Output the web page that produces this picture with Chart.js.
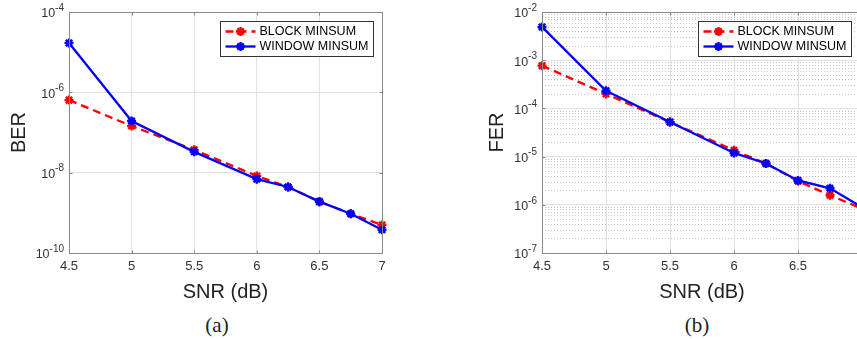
<!DOCTYPE html>
<html>
<head>
<meta charset="utf-8">
<script src="https://cdn.jsdelivr.net/npm/chart.js@4.4.1/dist/chart.umd.min.js"></script>
<style>
    html, body { margin: 0; padding: 0; background: #fff; width: 857px; height: 339px; overflow: hidden; }
    .box { position: absolute; top: 0; width: 400px; height: 310px; }
    #boxA { left: 0; }
    #boxB { left: 480px; }
    .cap { position: absolute; top: 313px; line-height: 24px; font-family: "Liberation Serif", "DejaVu Serif", serif; font-size: 21px; color: #222; transform: translateX(-50%); }
</style>
</head>
<body>
<div id="boxA" class="box"><canvas id="berChart"></canvas></div>
<div id="boxB" class="box"><canvas id="ferChart"></canvas></div>
<div class="cap" style="left:217px">(a)</div>
<div class="cap" style="left:697px">(b)</div>
<script>
// Дані
const snr = [4.5, 5, 5.5, 6, 6.25, 6.5, 6.75, 7];
const berBlock = [6.4e-7, 1.45e-7, 3.7e-8, 8.3e-9, 4.4e-9, 1.9e-9, 9.5e-10, 5.0e-10];
const berWindow = [1.7e-5, 1.93e-7, 3.3e-8, 6.9e-9, 4.4e-9, 1.9e-9, 9.5e-10, 3.8e-10];
const ferBlock = [7.7e-4, 2.0e-4, 5.2e-5, 1.35e-5, 7.2e-6, 3.1e-6, 1.58e-6, 8.3e-7];
const ferWindow = [4.9e-3, 2.33e-4, 5.2e-5, 1.19e-5, 7.2e-6, 3.2e-6, 2.2e-6, 8.9e-7];
const seriesNames = ['BLOCK MINSUM', 'WINDOW MINSUM'];
const berExps = [-10, -8, -6, -4];
const ferExps = [-7, -6, -5, -4, -3, -2];

const FONT = '"Liberation Sans", Arial, sans-serif';
const TEXT = '#333';
const FRAME = '#8a8a8a';

function makeDatasets(block, windowed) {
    return [
        {
            label: seriesNames[0],
            data: snr.map((x, i) => ({ x, y: block[i] })),
            borderColor: '#ff0000',
            backgroundColor: '#ff0000',
            borderWidth: 2.3,
            borderDash: [8, 5],
            pointStyle: 'star',
            pointRadius: 4.5,
            pointBorderWidth: 2.4,
            clip: false,
            order: 1
        },
        {
            label: seriesNames[1],
            data: snr.map((x, i) => ({ x, y: windowed[i] })),
            borderColor: '#0000ff',
            backgroundColor: '#0000ff',
            borderWidth: 2.3,
            pointStyle: 'star',
            pointRadius: 4.5,
            pointBorderWidth: 2.4,
            clip: false,
            order: 0
        }
    ];
}

// Рамка, мінорна сітка, підписи осі Y і легенда в стилі MATLAB
const matlabAxes = {
    id: 'matlabAxes',
    beforeDatasetsDraw(chart, args, opts) {
        if (!opts.minor) return;
        const { ctx, chartArea: a, scales: { y } } = chart;
        ctx.save();
        ctx.strokeStyle = '#c4c4c4';
        ctx.lineWidth = 1;
        ctx.setLineDash([1, 2]);
        for (let e = opts.exps[0]; e < opts.exps[opts.exps.length - 1]; e++) {
            for (let m = 2; m <= 9; m++) {
                const py = Math.round(y.getPixelForValue(m * Math.pow(10, e))) + 0.5;
                ctx.beginPath();
                ctx.moveTo(a.left, py);
                ctx.lineTo(a.right, py);
                ctx.stroke();
            }
        }
        ctx.restore();
    },
    afterDraw(chart, args, opts) {
        const { ctx, chartArea: a, scales: { x, y } } = chart;
        ctx.save();

        // рамка
        ctx.strokeStyle = FRAME;
        ctx.lineWidth = 1;
        const L = Math.round(a.left) + 0.5, R = Math.round(a.right) + 0.5;
        const T = Math.round(a.top) + 0.5, B = Math.round(a.bottom) + 0.5;
        ctx.strokeRect(L, T, R - L, B - T);
        ctx.beginPath();
        x.ticks.forEach(t => {
            const px = Math.round(x.getPixelForValue(t.value)) + 0.5;
            ctx.moveTo(px, B); ctx.lineTo(px, B - 3);
            ctx.moveTo(px, T); ctx.lineTo(px, T + 3);
        });
        opts.exps.forEach(e => {
            const py = Math.round(y.getPixelForValue(Math.pow(10, e))) + 0.5;
            ctx.moveTo(L, py); ctx.lineTo(L + 3, py);
            ctx.moveTo(R, py); ctx.lineTo(R - 3, py);
        });
        ctx.stroke();

        // підписи 10^e
        ctx.fillStyle = TEXT;
        ctx.textBaseline = 'middle';
        opts.exps.forEach(e => {
            const py = y.getPixelForValue(Math.pow(10, e));
            const expStr = '-' + Math.abs(e);
            ctx.font = `10px ${FONT}`;
            const ew = ctx.measureText(expStr).width;
            const right = a.left - 5;
            ctx.textAlign = 'left';
            ctx.fillText(expStr, right - ew, py - 4);
            ctx.font = `12.5px ${FONT}`;
            ctx.textAlign = 'right';
            ctx.fillText('10', right - ew, py + 2);
        });

        // легенда
        const w = 153, h = 35;
        const x0 = Math.round(a.right - opts.legendRight - w) + 0.5;
        const y0 = Math.round(a.top + 9) + 0.5;
        ctx.fillStyle = '#fff';
        ctx.fillRect(x0, y0, w, h);
        ctx.strokeStyle = '#333';
        ctx.strokeRect(x0, y0, w, h);
        ctx.font = `12.5px ${FONT}`;
        ctx.textAlign = 'left';
        chart.data.datasets.forEach((ds, i) => {
            const cy = y0 + 10 + i * 15;
            ctx.strokeStyle = ds.borderColor;
            ctx.lineWidth = 2.3;
            ctx.setLineDash(ds.borderDash || []);
            ctx.beginPath();
            ctx.moveTo(x0 + 5, cy);
            ctx.lineTo(x0 + 35, cy);
            ctx.stroke();
            ctx.setLineDash([]);
            ctx.fillStyle = ds.borderColor;
            Chart.helpers.drawPoint(ctx, { pointStyle: 'star', radius: 4.5, rotation: 0, borderWidth: 2.4 }, x0 + 20, cy);
            ctx.fillStyle = '#000';
            ctx.fillText(ds.label, x0 + 39, cy + 0.5);
        });
        ctx.restore();
    }
};

function createPlot(canvasId, yTitle, block, windowed, exps, yWidth, titlePad, minor, legendRight) {
    const ctx = document.getElementById(canvasId);
    return new Chart(ctx, {
        type: 'line',
        data: { datasets: makeDatasets(block, windowed) },
        plugins: [matlabAxes],
        options: {
            responsive: true,
            maintainAspectRatio: false,
            animation: false,
            events: [],
            layout: { padding: { top: 12, right: 18, left: 0, bottom: 0 } },
            plugins: {
                legend: { display: false },
                tooltip: { enabled: false },
                matlabAxes: { exps, minor, legendRight }
            },
            scales: {
                x: {
                    type: 'linear',
                    min: 4.5,
                    max: 7,
                    ticks: {
                        stepSize: 0.5,
                        color: TEXT,
                        font: { family: FONT, size: 13 },
                        padding: 6,
                        maxRotation: 0,
                        callback: v => String(+v.toFixed(2))
                    },
                    grid: { color: '#e2e2e2', drawTicks: false },
                    border: { display: false },
                    title: {
                        display: true,
                        text: 'SNR (dB)',
                        color: '#222',
                        font: { family: FONT, size: 20 },
                        padding: { top: 0, bottom: 6 }
                    },
                    afterFit(scale) { scale.height = 57; }
                },
                y: {
                    type: 'logarithmic',
                    min: Math.pow(10, exps[0]),
                    max: Math.pow(10, exps[exps.length - 1]),
                    afterBuildTicks(scale) {
                        scale.ticks = exps.map(e => ({ value: Math.pow(10, e) }));
                    },
                    ticks: { display: false },
                    grid: { color: '#e2e2e2', drawTicks: false },
                    border: { display: false },
                    title: {
                        display: true,
                        text: yTitle,
                        color: '#222',
                        font: { family: FONT, size: 20 },
                        padding: { top: titlePad, bottom: 0 }
                    },
                    afterFit(scale) { scale.width = yWidth; }
                }
            }
        }
    });
}

createPlot('berChart', 'BER', berBlock, berWindow, berExps, 69, 7.5, false, 9);
createPlot('ferChart', 'FER', ferBlock, ferWindow, ferExps, 62, 5, true, 11);
</script>
</body>
</html>
